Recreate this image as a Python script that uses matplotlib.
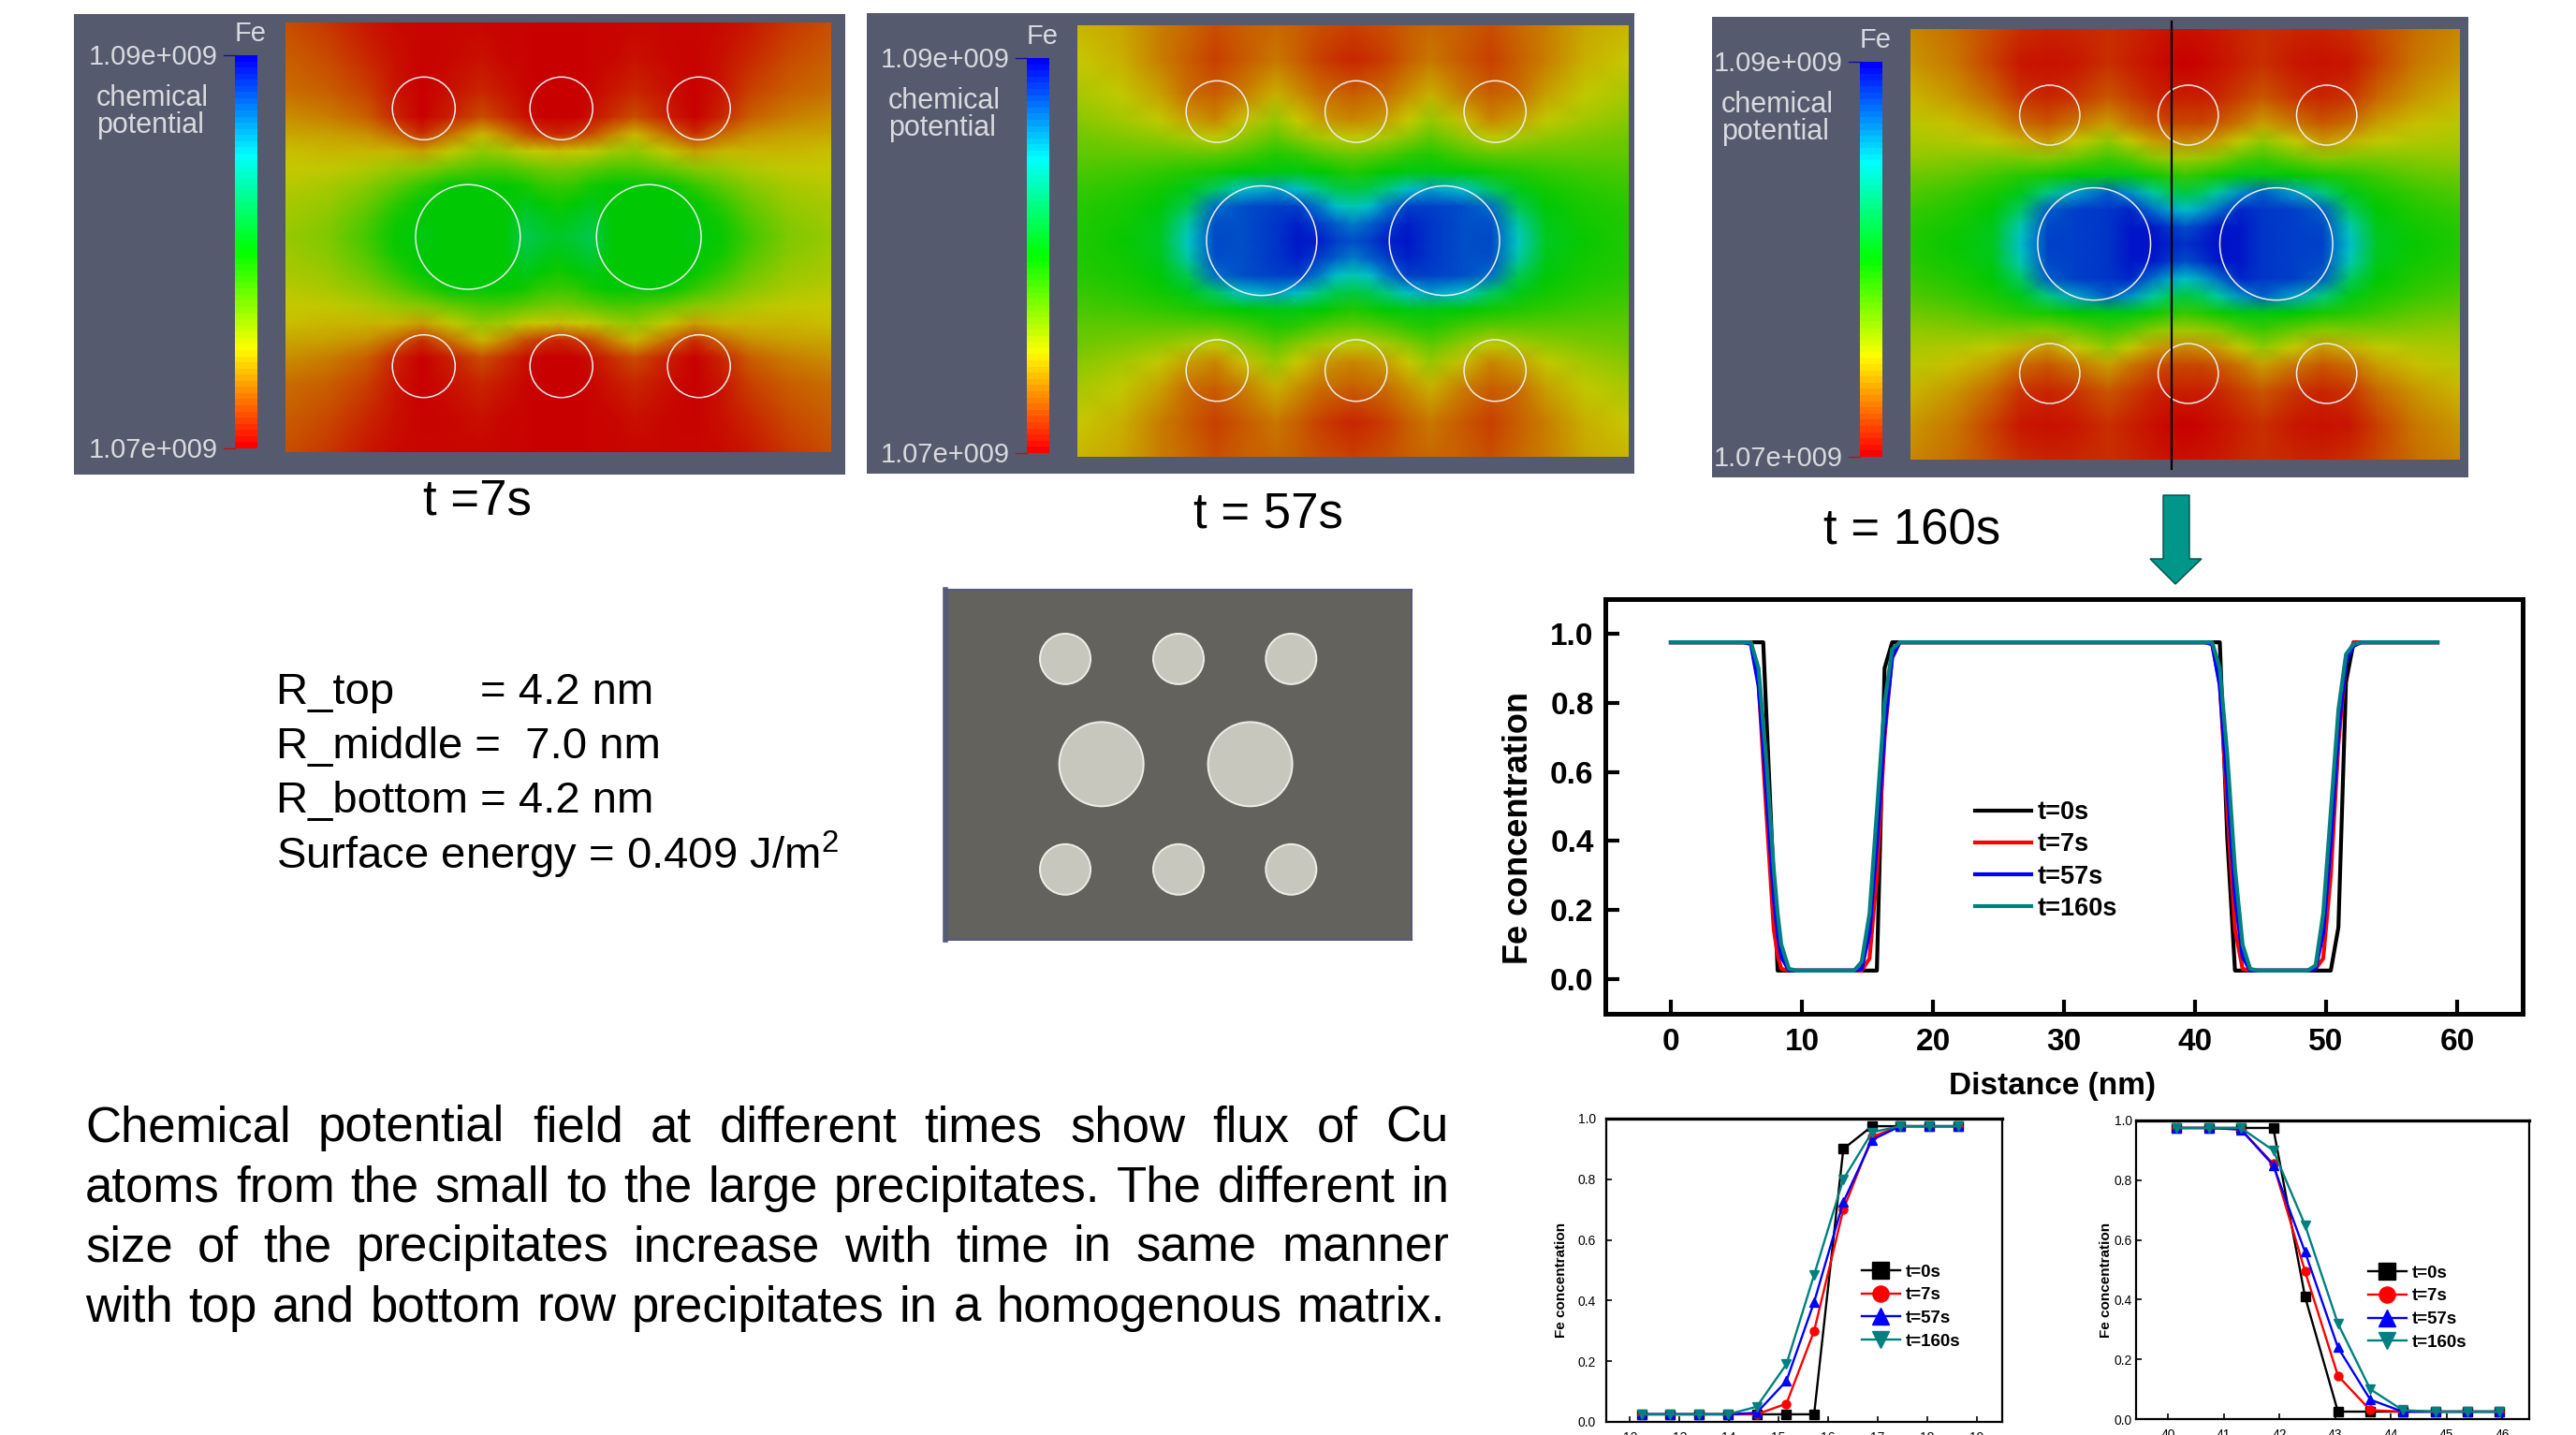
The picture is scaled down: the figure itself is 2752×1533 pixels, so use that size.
import numpy as np
import matplotlib
matplotlib.use('Agg')
import matplotlib.pyplot as plt
from matplotlib.colors import LinearSegmentedColormap
from matplotlib.patches import Circle, Polygon

plt.rcParams['font.family'] = ['Liberation Sans', 'DejaVu Sans']
plt.rcParams['mathtext.fontset'] = 'custom'
plt.rcParams['mathtext.rm'] = 'Liberation Sans'
plt.rcParams['mathtext.default'] = 'rm'

# full line profile, nm
x_main = [0, 5.54, 6.11, 6.69, 7.05, 7.26, 7.85, 8.15, 8.43, 9.01, 9.6,
          13.4, 13.98, 14.56, 15.16, 15.72, 16.31, 16.89, 17.46, 18.05,
          40.74, 41.31, 41.89, 42.46, 43.05, 43.63, 44.21, 44.8,
          48.6, 49.2, 49.78, 50.36, 50.94, 51.52, 52.1, 52.7, 58.5]
main_t0 = [.975, .975, .975, .975, .975, .79, .28, .025, .025, .025, .025,
           .025, .025, .025, .025, .025, .90, .975, .975, .975,
           .975, .975, .975, .41, .025, .025, .025, .025,
           .025, .025, .025, .025, .15, .86, .975, .975, .975]
main_t7 = [.975, .975, .975, .86, .63, .5, .145, .07, .03, .025, .025,
           .025, .025, .025, .06, .30, .70, .94, .975, .975,
           .975, .97, .855, .495, .145, .03, .025, .025,
           .025, .03, .06, .30, .68, .92, .975, .975, .975]
main_t57 = [.975, .975, .97, .85, .68, .56, .24, .13, .065, .025, .025,
            .025, .025, .03, .135, .395, .725, .93, .975, .975,
            .975, .97, .85, .56, .24, .065, .025, .025,
            .025, .03, .135, .395, .72, .92, .965, .975, .975]
main_t160 = [.975, .975, .975, .90, .74, .65, .32, .19, .10, .03, .025,
             .025, .025, .05, .19, .485, .80, .955, .975, .975,
             .975, .975, .90, .65, .32, .10, .03, .025,
             .025, .04, .19, .485, .78, .94, .97, .975, .975]

# zoom on rising edge
x_rise = [12.23, 12.81, 13.40, 13.98, 14.56, 15.16, 15.72, 16.31, 16.89, 17.46, 18.05, 18.63]
rise_t0 = [.025, .025, .025, .025, .025, .025, .025, .90, .975, .975, .975, .975]
rise_t7 = [.025, .025, .025, .025, .025, .06, .30, .70, .94, .975, .975, .975]
rise_t57 = [.025, .025, .025, .025, .03, .135, .395, .725, .93, .975, .975, .975]
rise_t160 = [.025, .025, .025, .025, .05, .19, .485, .80, .955, .975, .975, .975]

# zoom on falling edge
x_fall = [40.15, 40.74, 41.31, 41.89, 42.46, 43.05, 43.63, 44.21, 44.8, 45.38, 45.95]
fall_t0 = [.975, .975, .975, .975, .41, .025, .025, .025, .025, .025, .025]
fall_t7 = [.975, .975, .97, .855, .495, .145, .03, .025, .025, .025, .025]
fall_t57 = [.975, .975, .97, .85, .56, .24, .065, .025, .025, .025, .025]
fall_t160 = [.975, .975, .975, .90, .65, .32, .10, .03, .025, .025, .025]

series_labels = ['t=0s', 't=7s', 't=57s', 't=160s']
series_colors = ['black', 'red', 'blue', 'teal']
series_markers = ['s', 'o', '^', 'v']

# chemical potential, one quarter of each field
# 0 = bottom of the colour bar, 1 = top
node_x = [0, .08, .15, .2, .25, .3, .36, .4, .44, .47, .5]
node_y = [0, .08, .16, .22, .26, .3, .34, .38, .42, .46, .5]
field_t7 = [[.10, .07, .03, .015, .01, .01, .01, .005, .005, .003, .0],
            [.12, .09, .05, .02, .005, .01, .02, .01, .005, .003, .0],
            [.14, .12, .08, .03, .0, .02, .05, .03, .01, .0, .0],
            [.18, .16, .12, .05, .0, .04, .10, .06, .02, .0, .0],
            [.21, .20, .18, .13, .06, .14, .23, .17, .10, .07, .05],
            [.24, .23, .23, .23, .20, .26, .32, .30, .26, .25, .24],
            [.25, .26, .28, .31, .33, .37, .41, .41, .38, .36, .35],
            [.27, .29, .33, .38, .44, .50, .50, .50, .48, .44, .43],
            [.29, .31, .37, .44, .50, .50, .50, .50, .53, .50, .48],
            [.30, .33, .40, .48, .51, .50, .50, .50, .57, .54, .52],
            [.31, .34, .42, .49, .52, .50, .50, .50, .60, .57, .55]]
field_t57 = [[.23, .21, .16, .13, .10, .12, .13, .12, .10, .09, .08],
             [.25, .22, .16, .12, .08, .11, .15, .12, .08, .06, .05],
             [.29, .26, .20, .14, .12, .16, .22, .18, .14, .13, .12],
             [.33, .30, .26, .20, .17, .24, .31, .25, .20, .18, .17],
             [.36, .34, .32, .29, .26, .32, .38, .33, .29, .27, .26],
             [.38, .38, .38, .38, .38, .41, .46, .44, .40, .38, .37],
             [.41, .42, .44, .46, .48, .50, .52, .52, .50, .48, .46],
             [.43, .45, .48, .53, .62, .76, .80, .76, .66, .60, .58],
             [.45, .47, .51, .60, .86, .90, .92, .92, .84, .76, .72],
             [.46, .48, .53, .70, .90, .90, .93, .96, .92, .88, .84],
             [.46, .49, .54, .74, .91, .90, .93, .97, .96, .92, .90]]
field_t160 = [[.17, .14, .09, .06, .045, .05, .06, .05, .035, .025, .02],
              [.19, .15, .08, .03, .02, .03, .06, .04, .02, .01, .0],
              [.23, .19, .13, .07, .05, .07, .11, .08, .05, .04, .04],
              [.27, .24, .20, .14, .11, .15, .20, .15, .11, .09, .09],
              [.29, .28, .26, .22, .19, .25, .32, .26, .20, .18, .17],
              [.32, .33, .34, .34, .33, .37, .42, .39, .33, .31, .30],
              [.36, .38, .42, .45, .47, .50, .52, .52, .48, .45, .43],
              [.40, .43, .47, .53, .66, .80, .88, .82, .70, .62, .58],
              [.43, .46, .50, .62, .88, .92, .93, .95, .86, .80, .76],
              [.45, .48, .53, .72, .91, .92, .93, .97, .97, .93, .90],
              [.46, .49, .54, .76, .92, .92, .93, .97, .98, .96, .94]]

# precipitates in nm
small_x = [18.5, 36.9, 55.3]
small_y = [11.5, 46.0]
large_x = [24.4, 48.6]
large_y = 28.7
r_small_t = [4.2, 4.1, 4.0]
r_large_t = [7.0, 7.3, 7.5]

# initial geometry
geo_small_x = [19.9, 38.7, 57.4]
geo_small_y = [11.5, 46.5]
geo_large_x = [25.9, 50.6]
geo_large_y = 29.0
geo_r_small = 4.2
geo_r_large = 7.0

params = ['R_top       = 4.2 nm', 'R_middle =  7.0 nm', 'R_bottom = 4.2 nm',
          'Surface energy = 0.409 J/m$^{2}$']
body = ['Chemical potential field at different times show flux of Cu',
        'atoms from the small to the large precipitates. The different in',
        'size of the precipitates increase with time in same manner',
        'with top and bottom row precipitates in a homogenous matrix.']

W, H = 2752, 1533
fig = plt.figure(figsize=(W / 100, H / 100), dpi=100, facecolor='white')


def pixel_axes(x0, y0, x1, y1):
    return fig.add_axes([x0 / W, 1 - y1 / H, (x1 - x0) / W, (y1 - y0) / H])


field_cmap = LinearSegmentedColormap.from_list(
    'field', ['#c80000', '#c8c800', '#00c800', '#00c8c8', '#0000c8'])
bar_cmap = LinearSegmentedColormap.from_list(
    'bar', ['#ff0000', '#ffff00', '#00ff00', '#00ffff', '#0000ff'], N=64)
gray = '#565a6e'

over = fig.add_axes([0, 0, 1, 1], zorder=10)
over.set_xlim(0, W)
over.set_ylim(H, 0)
over.axis('off')


def draw_panel(box, field_box, bar_box, values, r_small, r_large, caption, cap_xy):
    bg = pixel_axes(*box)
    bg.set_facecolor(gray)
    bg.set_xticks([])
    bg.set_yticks([])
    for s in bg.spines.values():
        s.set_visible(False)

    width, height = 73.0, 57.5
    fx = np.array(node_x) * width
    fy = np.array(node_y) * height
    fx = np.concatenate([fx, width - fx[-2::-1]])
    fy = np.concatenate([fy, height - fy[-2::-1]])
    z = np.array(values)
    z = np.hstack([z, z[:, -2::-1]])
    z = np.vstack([z, z[-2::-1]])

    ax = pixel_axes(*field_box)
    ax.pcolormesh(fx, fy, z, cmap=field_cmap, vmin=0, vmax=1, shading='gouraud')
    for cy in small_y:
        for cx in small_x:
            ax.add_patch(Circle((cx, cy), r_small, fill=False, ec='#eeeeee', lw=1.1))
    for cx in large_x:
        ax.add_patch(Circle((cx, large_y), r_large, fill=False, ec='#eeeeee', lw=1.1))
    ax.set_xlim(0, width)
    ax.set_ylim(height, 0)
    ax.axis('off')

    cb = pixel_axes(*bar_box)
    cb.imshow(np.linspace(1, 0, 64)[:, None], cmap=bar_cmap, aspect='auto', vmin=0, vmax=1)
    cb.axis('off')

    bx, by0, by1 = bar_box[0], bar_box[1], bar_box[3]
    txt = '#d9dade'
    over.text(bx + 17, by0 - 23, 'Fe', color=txt, fontsize=21, ha='center', va='center')
    over.text(bx - 18, by0 + 2, '1.09e+009', color=txt, fontsize=21, ha='right', va='center')
    over.text(bx - 18, by1 + 2, '1.07e+009', color=txt, fontsize=21, ha='right', va='center')
    over.text(bx - 148, by0 + 46, 'chemical', color=txt, fontsize=22, ha='left', va='center')
    over.text(bx - 148, by0 + 75, 'potential', color=txt, fontsize=22, ha='left', va='center')
    over.plot([bx - 12, bx], [by0, by0], color='#1010a0', lw=1)
    over.plot([bx - 12, bx], [by1, by1], color='#c01010', lw=1)
    over.text(cap_xy[0], cap_xy[1], caption, color='black', fontsize=38, ha='center', va='center')


draw_panel((79, 15, 903, 507), (305, 24, 888, 483), (251, 59, 275, 479),
           field_t7, r_small_t[0], r_large_t[0], 't =7s', (510, 536))
draw_panel((926, 14, 1746, 506), (1151, 27, 1740, 488), (1097, 62, 1121, 484),
           field_t57, r_small_t[1], r_large_t[1], 't = 57s', (1355, 550))
draw_panel((1829, 18, 2637, 510), (2041, 31, 2628, 491), (1987, 66, 2011, 488),
           field_t160, r_small_t[2], r_large_t[2], 't = 160s', (2043, 567))

# section line and arrow
over.plot([2320, 2320], [23, 501], color='black', lw=1.6)
over.add_patch(Polygon([(2311, 529), (2339, 529), (2339, 597), (2352, 597), (2324, 624),
                        (2297, 597), (2311, 597)], closed=True, fc='#00968a', ec='#004d44', lw=1))

# geometry picture
geo = pixel_axes(1010, 630, 1508, 1004)
geo.set_facecolor('#63625c')
for cy in geo_small_y:
    for cx in geo_small_x:
        geo.add_patch(Circle((cx, cy), geo_r_small, fc='#c8c7bd', ec='#eeeee8', lw=1.4))
for cx in geo_large_x:
    geo.add_patch(Circle((cx, geo_large_y), geo_r_large, fc='#c8c7bd', ec='#eeeee8', lw=1.4))
geo.set_xlim(0, 77.4)
geo.set_ylim(58.2, 0)
geo.set_xticks([])
geo.set_yticks([])
for s in geo.spines.values():
    s.set_color('#55597a')
    s.set_linewidth(1.5)
geo.spines['left'].set_linewidth(4)

# main profile
ax = pixel_axes(1715, 640, 2695, 1083)
main_y = [main_t0, main_t7, main_t57, main_t160]
for vals, lab, col in zip(main_y, series_labels, series_colors):
    ax.plot(x_main, vals, color=col, lw=3.0, label=lab)
ax.set_xlim(-5, 65)
ax.set_ylim(-0.1, 1.1)
ax.set_xticks(range(0, 61, 10))
ax.set_yticks([0, .2, .4, .6, .8, 1.0])
ax.tick_params(direction='in', length=11, width=3, labelsize=24, pad=9)
ax.tick_params(axis='x', pad=11)
ax.tick_params(top=False, right=False)
for lab in ax.get_xticklabels() + ax.get_yticklabels():
    lab.set_fontweight('bold')
for s in ax.spines.values():
    s.set_linewidth(3.6)
ax.legend(loc='upper left', bbox_to_anchor=(0.403, 0.514), frameon=False,
          prop={'weight': 'bold', 'size': 19.5}, handlelength=2.2, handletextpad=0.25,
          labelspacing=0.3, borderaxespad=0, borderpad=0)
over.text(1623, 885, 'Fe concentration', fontsize=26, fontweight='bold', rotation=90,
          ha='center', va='center')
over.text(2193, 1161, 'Distance (nm)', fontsize=24, fontweight='bold', ha='center', va='center')


def draw_inset(box, x, curves, xlim, xticks, ylabel_x, ylabel_y, legend_at, ypad):
    a = pixel_axes(*box)
    for vals, lab, col, mk in zip(curves, series_labels, series_colors, series_markers):
        a.plot(x, vals, color=col, lw=1.7, marker=mk, ms=6.5, label=lab)
    a.set_xlim(*xlim)
    a.set_ylim(0, 1)
    a.set_xticks(xticks)
    a.set_yticks([0, .2, .4, .6, .8, 1.0])
    a.tick_params(direction='in', length=4, width=1.2, labelsize=10)
    a.tick_params(axis='y', pad=ypad)
    a.tick_params(axis='x', pad=7)
    a.tick_params(top=False, right=False)
    for s in a.spines.values():
        s.set_linewidth(1.6)
    a.spines['top'].set_linewidth(2.4)
    a.legend(loc='upper left', bbox_to_anchor=legend_at, frameon=False,
             prop={'weight': 'bold', 'size': 13.5}, handlelength=2.2, handletextpad=0.3,
             labelspacing=0.4, markerscale=1.9, borderaxespad=0, borderpad=0)
    over.text(ylabel_x, ylabel_y, 'Fe concentration', fontsize=11, fontweight='bold',
              rotation=90, ha='center', va='center')


draw_inset((1716, 1195, 2139, 1519), x_rise, [rise_t0, rise_t7, rise_t57, rise_t160],
           (11.52, 19.52), range(12, 20), 1668, 1367, (0.645, 0.52), 8)
draw_inset((2282, 1197, 2702, 1516), x_fall, [fall_t0, fall_t7, fall_t57, fall_t160],
           (39.43, 46.48), range(40, 47), 2250, 1367, (0.59, 0.515), 3)

# text blocks
for line, y in zip(params, [740, 798, 856, 913]):
    over.text(295, y, line, fontsize=34, ha='left', va='center')


def justified(line, x0, x1, y, size):
    words = line.split()
    rend = fig.canvas.get_renderer()
    items = [over.text(x0, y, w, fontsize=size, ha='left', va='baseline') for w in words]
    widths = [t.get_window_extent(rend).width for t in items]
    gap = (x1 - x0 - sum(widths)) / (len(words) - 1)
    pos = x0
    for t, w in zip(items, widths):
        t.set_x(pos)
        pos += w + gap


for line, y, right in zip(body, [1219, 1284, 1347, 1412], [1548, 1548, 1548, 1544]):
    justified(line, 91, right, y, 38)

fig.savefig('out.png', dpi=100)
